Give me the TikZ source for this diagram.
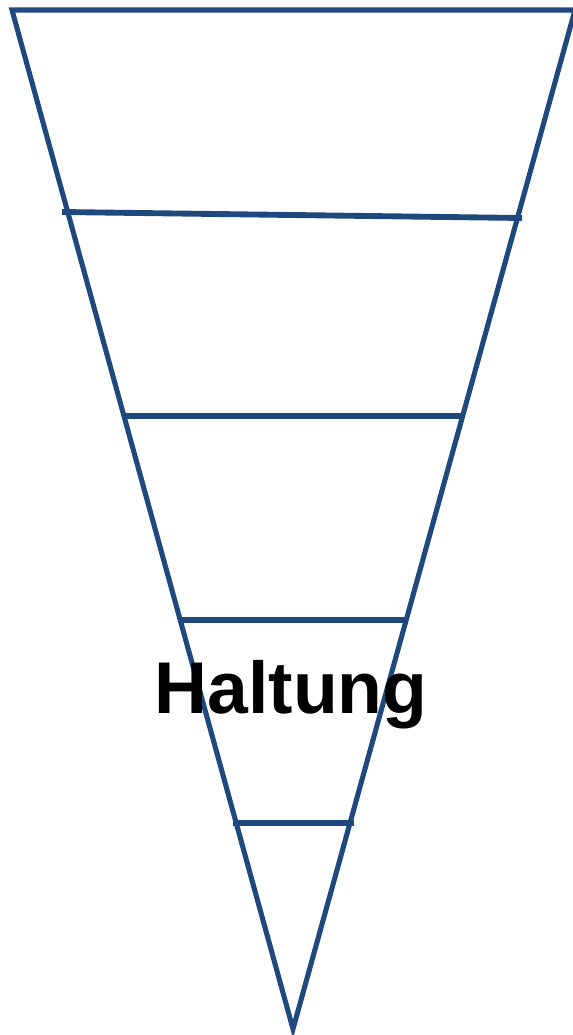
\documentclass[tikz,border=0pt]{standalone}
\usepackage{fontspec}
\setmainfont{Liberation Sans}
\usepackage{xcolor}
\usepackage{tikz}
\usetikzlibrary{calc}

\definecolor{trichter}{RGB}{31,73,125}

\begin{document}
\begin{tikzpicture}[x=0.75pt, y=-0.75pt, line width=3.8pt]
    \useasboundingbox (0,0) rectangle (572,1035);

    % Trichter
    \coordinate (tl) at (12,10);
    \coordinate (tr) at (575,10);
    \coordinate (spitze) at (293,1029);
    \draw[trichter, line join=miter] (tl) -- (tr) -- (spitze) -- cycle;

    % Stufen
    \draw[trichter, line width=4.4pt] (62,212) -- (522,218);
    \draw[trichter, line width=4.4pt] (124,416) -- (464,416);
    \draw[trichter, line width=4.4pt] (182,620) -- (405,620);
    \draw[trichter, line width=4.4pt] (233,823) -- (354,823);

    \node[anchor=base, inner sep=0pt, font=\bfseries\fontsize{55}{60}\selectfont] (haltung) at (291,713) {Haltung};
\end{tikzpicture}
\end{document}
